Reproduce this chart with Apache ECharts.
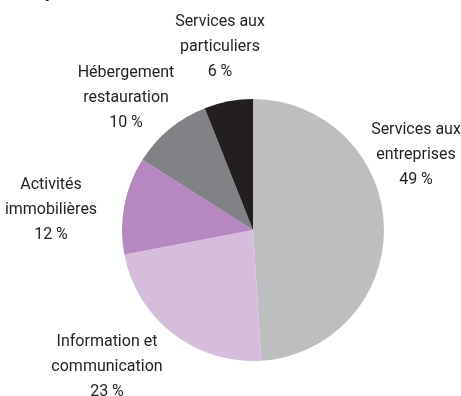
<!DOCTYPE html>
<html>
<head>
<meta charset="utf-8">
<script src="https://cdnjs.cloudflare.com/ajax/libs/echarts/6.0.0/echarts.min.js"></script>
<style>
  html, body { margin: 0; padding: 0; background: #fff; }
  #main { width: 461px; height: 396px; }
</style>
</head>
<body>
<div id="main"></div>
<script type="text/javascript">
// data
var secteurs = ['Services aux\nentreprises', 'Information et\ncommunication', 'Activités\nimmobilières', 'Hébergement\nrestauration', 'Services aux\nparticuliers'];
var parts = [49, 23, 12, 10, 6];
var couleurs = ['#bcbec0', '#d6bddc', '#b687c1', '#808285', '#231f20'];

// label placement (centre of each text block)
var labelPos = [[416, 155], [107, 367], [51, 210], [126, 98], [220, 47]];

var chart = echarts.init(document.getElementById('main'));

var pieData = [];
for (var i = 0; i < secteurs.length; i++) {
  pieData.push({ name: secteurs[i], value: parts[i], itemStyle: { color: couleurs[i] } });
}

chart.setOption({
  animation: false,
  title: {
    text: 'ajoutée en 2010',
    left: 33,
    top: -19,
    textStyle: { fontFamily: 'Roboto, sans-serif', fontWeight: 'bold', fontSize: 16, color: '#231f20' }
  },
  series: [{
    type: 'pie',
    center: [253, 230],
    radius: 131,
    startAngle: 90,
    clockwise: true,
    data: pieData,
    itemStyle: { borderWidth: 0 },
    label: {
      show: true,
      position: 'outside',
      formatter: function (p) { return p.name + '\n' + p.value + ' %'; },
      fontFamily: 'Roboto, sans-serif',
      fontSize: 16,
      lineHeight: 25,
      color: '#231f20',
      align: 'center',
      overflow: 'none',
      width: 200
    },
    labelLine: { show: false },
    labelLayout: function (params) {
      var p = labelPos[params.dataIndex];
      return { x: p[0], y: p[1], align: 'center', verticalAlign: 'middle' };
    }
  }]
});
</script>
</body>
</html>
